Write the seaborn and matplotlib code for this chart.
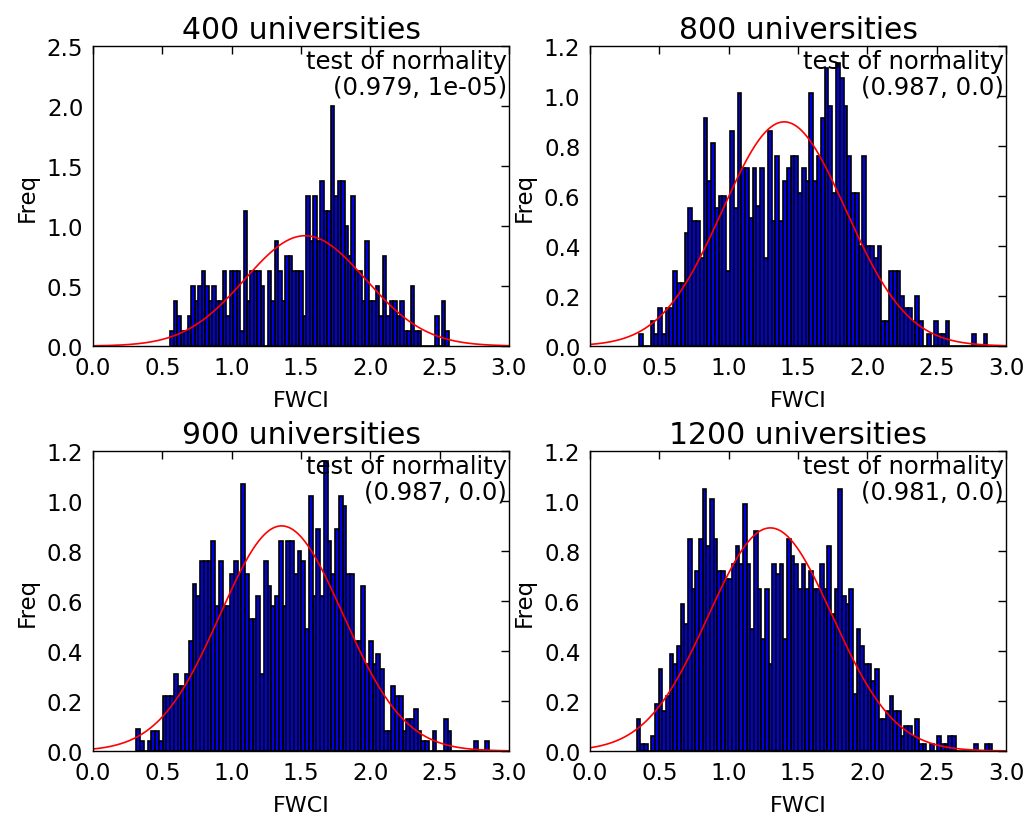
import numpy as np
import pandas as pd
import matplotlib
matplotlib.use("Agg")
import matplotlib.pyplot as plt
import seaborn as sns

# ------------------------
# DADOS
# ------------------------
TITLES = ["400 universities", "800 universities", "900 universities", "1200 universities"]
NORM_TEST = ["(0.979, 1e-05)", "(0.987, 0.0)", "(0.987, 0.0)", "(0.981, 0.0)"]

# limites do histograma (min, max do FWCI) por painel
RANGE_400 = (0.558, 2.567)
RANGE_800 = (0.354, 2.865)
RANGE_900 = (0.312, 2.855)
RANGE_1200 = (0.335, 2.90)

# alturas das barras (densidade) da esquerda para a direita
FREQ_400 = [0.125, 0.375, 0.25, 0.125, 0.125, 0.25, 0.5, 0.375, 0.5, 0.625,
            0.5, 0.375, 0.5, 0.375, 0.375, 0.625, 0.25, 0.625, 0.625, 0.625,
            0.125, 1.125, 0.375, 0.625, 0.625, 0.625, 0.5, 0, 0.625, 0.375,
            0.875, 0.625, 0.375, 0.75, 0.75, 0.625, 0.625, 0.625, 0.25, 1.25,
            0.875, 1.25, 0.875, 1.375, 1.125, 1.125, 2.0, 1.25, 1.375, 1.375,
            1.0, 0.75, 1.25, 0.625, 0.625, 0.375, 0.875, 0.375, 0.375, 0.5,
            0.25, 0.75, 0.25, 0.375, 0.375, 0.25, 0.375, 0.125, 0.125, 0.5,
            0.125, 0.125, 0, 0, 0, 0, 0.25, 0, 0.375, 0.125]

FREQ_800 = [0.05, 0, 0, 0.1, 0.05, 0.15, 0.05, 0.15, 0.15, 0.3, 0.25, 0.25, 0.45, 0.55, 0.5, 0.5,
            0.35, 0.91, 0.66, 0.81, 0.55, 0.6, 0.6, 0.3, 0.86, 0.55, 1.01, 0.71, 0.71, 0.51, 0.71,
            0.56, 0.71, 0.35, 0.86, 0.5, 0.76, 0.5, 0.66, 0.71, 0.76, 0.76, 0.61, 0.71, 0.66,
            1.01, 0.66, 0.76, 0.91, 1.11, 0.96, 0.61, 1.13, 1.07, 0.96, 0.76, 0.61, 0.61, 0.4,
            0.76, 0.4, 0.4, 0.35, 0.4,
            0.1, 0.1, 0.3, 0.3, 0.3, 0.2, 0.15, 0.15, 0.1, 0.2, 0.1, 0, 0.05, 0, 0.1, 0.05, 0.05,
            0.1, 0, 0, 0, 0, 0, 0, 0.05, 0, 0, 0.05]

FREQ_900 = [0.09, 0.04, 0, 0.04, 0.08, 0.08, 0.04, 0.22, 0.22, 0.22, 0.31, 0.26, 0.26, 0.31, 0.44,
            0.67, 0.62, 0.76, 0.76, 0.76, 0.84, 0.58, 0.76, 0.58, 0.58, 0.71, 0.76, 0.71, 1.07,
            0.71, 0.53, 0.53,
            0.62, 0.31, 0.76, 0.66, 0.58, 0.62, 0.84, 0.58, 0.84, 0.84, 0.71, 0.8, 0.76, 0.49,
            1.02, 0.62, 0.89, 0.62, 1.16, 0.84, 0.71, 0.89, 1.02, 0.98, 0.71, 0.71, 0.44, 0.44,
            0.66, 0.35, 0.44, 0.35, 0.39,
            0.33, 0.08, 0.08, 0.26, 0.22, 0.22, 0.08, 0.13, 0.13, 0.17, 0.08, 0.04, 0.04, 0, 0.08,
            0, 0, 0.13, 0.08, 0, 0, 0, 0, 0, 0, 0.04, 0, 0, 0.04]

FREQ_1200 = [0.13, 0.03, 0.03, 0, 0.06, 0.19, 0.33, 0.16, 0.22, 0.39, 0.35, 0.42, 0.59, 0.51, 0.85,
             0.65, 0.72, 0.85, 1.05, 0.82, 1.01, 0.85, 0.72, 0.72, 0.69, 0.69, 0.75, 0.82, 0.75,
             0.99, 0.75, 0.49, 0.88, 0.65,
             0.45, 0.65, 0.35, 0.75, 0.71, 0.75, 0.45, 0.85, 0.78, 0.75, 0.65, 0.75, 0.65, 0.72,
             0.65, 0.65, 0.75, 0.65, 0.82, 0.55, 0.65, 1.05, 0.62, 0.59, 0.65, 0.23, 0.49, 0.42,
             0.35, 0.35, 0.28, 0.33,
             0.13, 0.13, 0.16, 0.22, 0.16, 0.16, 0.06, 0.1, 0.1, 0.06, 0.13, 0.03, 0.03, 0, 0.03,
             0, 0.06, 0.03, 0.03, 0.06, 0.06, 0, 0, 0, 0, 0, 0.03, 0, 0, 0.03, 0.03]

# ajuste normal (média, desvio) de cada painel
FIT_MU = [1.53, 1.40, 1.36, 1.30]
FIT_SIGMA = [0.434, 0.445, 0.443, 0.447]

YMAX = [2.5, 1.2, 1.2, 1.2]

RANGES = [RANGE_400, RANGE_800, RANGE_900, RANGE_1200]
FREQS = [FREQ_400, FREQ_800, FREQ_900, FREQ_1200]

# ------------------------
# ESTILO
# ------------------------
sns.set_theme(style="white", rc={"text.color": "black", "axes.labelcolor": "black",
                                 "xtick.color": "black", "ytick.color": "black"})
plt.rcParams["font.family"] = ["DejaVu Sans"]

fig, axes = plt.subplots(2, 2, figsize=(10.27, 8.2), dpi=100)
fig.subplots_adjust(left=0.0906, right=0.9796, top=0.9427, bottom=0.0829,
                    wspace=0.195, hspace=0.35)

xs = np.linspace(0, 3, 400)
for k, ax in enumerate(axes.flat):
    lo, hi = RANGES[k]
    freq = FREQS[k]
    edges = np.linspace(lo, hi, len(freq) + 1)
    df = pd.DataFrame({"fwci": (edges[:-1] + edges[1:]) / 2, "freq": freq})

    sns.histplot(data=df, x="fwci", weights="freq", bins=edges.tolist(), ax=ax,
                 color="#0000e0", edgecolor="black", linewidth=1.2, alpha=1)

    mu, sd = FIT_MU[k], FIT_SIGMA[k]
    pdf = np.exp(-0.5 * ((xs - mu) / sd) ** 2) / (sd * np.sqrt(2 * np.pi))
    sns.lineplot(x=xs, y=pdf, ax=ax, color="red", linewidth=1.2)

    ax.set_xlim(0, 3)
    ax.set_ylim(0, YMAX[k])
    ax.set_xticks(np.arange(0, 3.01, 0.5))
    if YMAX[k] > 2:
        ax.set_yticks(np.arange(0, 2.51, 0.5))
    else:
        ax.set_yticks(np.arange(0, 1.21, 0.2))
    ax.xaxis.set_major_formatter(matplotlib.ticker.FormatStrFormatter("%.1f"))
    ax.yaxis.set_major_formatter(matplotlib.ticker.FormatStrFormatter("%.1f"))
    ax.tick_params(direction="in", top=True, right=True, length=6, width=1,
                   labelsize=16.5, pad=7, color="black")
    for s in ax.spines.values():
        s.set_color("black")
        s.set_linewidth(1)

    ax.set_title(TITLES[k], fontsize=21.5, pad=6)
    ax.set_xlabel("FWCI", fontsize=16, labelpad=8)
    ax.set_ylabel("Freq", fontsize=16.5, labelpad=6)
    ax.text(0.995, 0.99, "test of normality\n" + NORM_TEST[k], transform=ax.transAxes,
            ha="right", va="top", fontsize=17.5, multialignment="right", linespacing=1.08)

fig.savefig("out.png", dpi=100, facecolor="white")
